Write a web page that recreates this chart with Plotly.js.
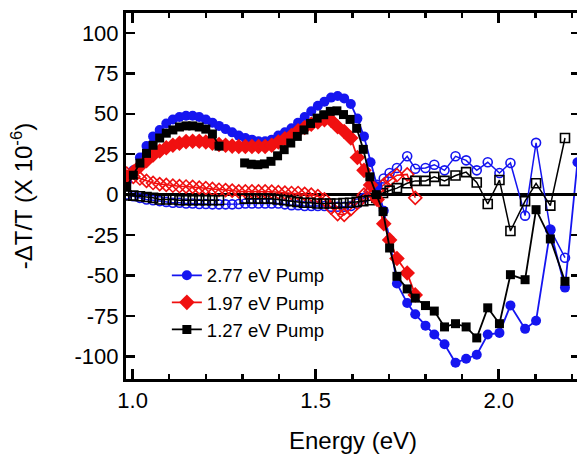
<!DOCTYPE html>
<html>
<head>
<meta charset="utf-8">
<script src="https://cdn.plot.ly/plotly-3.0.1.min.js"></script>
<style>
html, body { margin: 0; padding: 0; overflow: hidden; background: #fff; width: 577px; height: 455px; }
#chart { width: 584px; height: 455px; }
</style>
</head>
<body>
<div id="chart"></div>
<script>
// ---- Data ----
// Pump 2.77 eV, filled circles
const xBlue = [0.984,1.002,1.020,1.038,1.056,1.074,1.092,1.110,1.128,1.146,1.164,1.182,1.200,1.218,1.236,1.254,1.272,1.290,1.308,1.326,1.344,1.362,1.380,1.398,1.416,1.434,1.452,1.470,1.488,1.506,1.524,1.542,1.560,1.578,1.596,1.614,1.632,1.650,1.668,1.686,1.702,1.722,1.750,1.772,1.800,1.824,1.852,1.882,1.911,1.940,1.970,2.002,2.032,2.072,2.102,2.141,2.181,2.215];
const yBlue = [8,15,23,30,36,40,44,46.5,48,48.8,48.8,48,46.5,44.5,42.5,40.5,38.5,36.5,35,34,33,33,34,36.5,38.5,41,44.5,48,51.5,55,57.5,60,61,59.5,56,47,36,20,5,-10,-28,-55,-67,-74,-81,-86.5,-92.5,-104,-101.5,-99,-86.5,-85.5,-68.5,-83,-78,-22,-57.5,20];

// Pump 1.97 eV, filled diamonds
const xRed = [0.984,1.002,1.020,1.038,1.056,1.074,1.092,1.110,1.128,1.146,1.164,1.182,1.200,1.218,1.236,1.254,1.272,1.290,1.308,1.326,1.344,1.362,1.380,1.398,1.416,1.434,1.452,1.470,1.488,1.506,1.524,1.542,1.560,1.578,1.596,1.614,1.632,1.650,1.668,1.686,1.702,1.722,1.750,1.772];
const yRed = [11,14,17.5,21,24.5,27,29,30.5,31.8,32.8,33,33,32.5,31.8,31,30.5,30,29.8,29.8,29.8,29.8,29.8,30.5,32.5,34.5,36.5,39.5,41.5,43.5,45,46.3,46,42,39,35,23,15,6,-3,-18,-28,-39.5,-48.5,-62];

// Pump 1.27 eV, filled squares (null = gap in the data)
const xBlack = [0.984,1.002,1.020,1.038,1.056,1.074,1.092,1.110,1.128,1.146,1.164,1.182,1.200,1.218,1.236,1.270,1.306,1.324,1.342,1.360,1.378,1.396,1.414,1.432,1.450,1.468,1.486,1.504,1.522,1.540,1.558,1.576,1.594,1.612,1.630,1.648,1.666,1.684,1.702,1.722,1.750,1.772,1.800,1.824,1.852,1.882,1.911,1.940,1.970,2.002,2.032,2.072,2.102,2.141,2.181];
const yBlack = [5,12,19.5,25.5,30.5,35,38,40,41.8,42.5,42.5,41.8,40.5,37.5,30,null,19.6,18.8,18.5,19,20.6,24,27.8,31.9,36,40,44,47.3,49.4,51.5,51.8,49.5,46.5,41,28,11,0,-10.5,-33,-50.5,-58.3,-64,-68.6,-72,-81.8,-79.8,-81.8,-88.6,-70,-79.8,-49.5,-52.6,-9.3,-27.4,-53.6];

// Open-symbol companions
const xBlueOpen = [0.984,1.002,1.020,1.038,1.056,1.074,1.092,1.110,1.128,1.146,1.164,1.182,1.200,1.218,1.236,1.254,1.272,1.290,1.308,1.326,1.344,1.362,1.380,1.398,1.416,1.434,1.452,1.470,1.488,1.506,1.524,1.542,1.560,1.578,1.596,1.614,1.632,1.650,1.668,1.686,1.702,1.722,1.750,1.772,1.800,1.824,1.852,1.882,1.911,1.940,1.970,2.002,2.032,2.072,2.102,2.141,2.181];
const yBlueOpen = [0,-1,-2,-3,-3.5,-4,-4.5,-5,-5,-5.5,-5.5,-5.8,-5.8,-6,-6,-6,-6,-5.8,-5.5,-5.5,-5.5,-5.5,-5.5,-5.5,-6,-6.5,-6.5,-7,-7,-7,-7,-7.5,-7.5,-7.5,-7,-5.5,-2,2,6,10,13.4,16.5,23.7,16,16.5,18.5,15,23.7,21.2,15,20,13.4,19.6,-13,32,-21.6,-39];

const xRedOpen = [0.984,1.002,1.020,1.038,1.056,1.074,1.092,1.110,1.128,1.146,1.164,1.182,1.200,1.218,1.236,1.254,1.272,1.290,1.308,1.326,1.344,1.362,1.380,1.398,1.416,1.434,1.452,1.470,1.488,1.506,1.524,1.542,1.560,1.578,1.596,1.614,1.632,1.650,1.668,1.686,1.702,1.722,1.750,1.772];
const yRedOpen = [13,11,10,8.5,7.2,6.5,6,5.5,5.2,5,4.8,4.3,4,3.5,3,2.8,2.5,2,2,2,2,2,1.8,1.5,1.2,1,1,0.5,0,-1,-3,-8,-12,-12.5,-9,-5,0,2,3,6,9,12,12.5,-2];

const xBlackOpen = [0.984,1.002,1.020,1.038,1.056,1.074,1.092,1.110,1.128,1.146,1.164,1.182,1.200,1.218,1.236,1.270,1.306,1.324,1.342,1.360,1.378,1.396,1.414,1.432,1.450,1.468,1.486,1.504,1.522,1.540,1.558,1.576,1.594,1.612,1.630,1.648,1.666,1.684,1.702,1.722,1.750,1.772,1.800,1.824,1.852,1.882,1.911,1.940,1.970,2.002,2.032,2.072,2.102,2.141,2.181];
const yBlackOpen = [-0.5,-0.6,-1,-1.5,-2,-3,-3,-3,-3.5,-3.5,-3.5,-3.5,-3.5,-3.5,-3.5,null,-2.5,-2.5,-2.5,-2.5,-2.5,-3,-3.5,-4,-4.5,-5,-5,-5.5,-5.5,-5.5,-5.5,-5.2,-5,-4.5,-4,-3.5,-2,1,2.5,4,7,8.5,8.5,11,8.5,11.8,13.9,7.5,-5.8,9,-22.5,-4,7,-6.8,35];

const seriesNames = ['2.77 eV Pump', '1.97 eV Pump', '1.27 eV Pump'];
const yTickVals = [-100,-75,-50,-25,0,25,50,75,100];
const yTickText = ['-100','-75','-50','-25','0','25','50','75','100'];

const BLUE = '#1515f0', RED = '#f01010', BLACK = '#000000';
const FONT = 'Liberation Sans, Arial, Helvetica, sans-serif';

function openTrace(x, y, color, symbol, size) {
  return {x: x, y: y, type: 'scatter', mode: 'lines+markers', showlegend: false,
    line: {color: color, width: 1.5},
    marker: {symbol: symbol, size: size, color: color, line: {color: color, width: 1.6}},
    hoverinfo: 'skip'};
}
function fillTrace(x, y, color, symbol, size, name) {
  return {x: x, y: y, type: 'scatter', mode: 'lines+markers', name: name,
    line: {color: color, width: 1.8},
    marker: {symbol: symbol, size: size, color: color, line: {width: 0}}};
}

const data = [
  openTrace(xBlueOpen, yBlueOpen, BLUE, 'circle-open', 9),
  openTrace(xRedOpen, yRedOpen, RED, 'diamond-open', 10),
  openTrace(xBlackOpen, yBlackOpen, BLACK, 'square-open', 9),
  fillTrace(xBlue, yBlue, BLUE, 'circle', 10, seriesNames[0]),
  fillTrace(xRed, yRed, RED, 'diamond', 12, seriesNames[1]),
  fillTrace(xBlack, yBlack, BLACK, 'square', 9, seriesNames[2])
];

const layout = {
  width: 584, height: 455,
  margin: {l: 126, r: 4, t: 13, b: 76},
  paper_bgcolor: '#ffffff', plot_bgcolor: '#ffffff',
  font: {family: FONT, color: '#000', size: 21},
  showlegend: true,
  legend: {x: 0.09, y: 0.334, xanchor: 'left', yanchor: 'top',
    bgcolor: 'rgba(0,0,0,0)', borderwidth: 0, itemwidth: 30,
    font: {family: FONT, size: 18.5, color: '#000'}, tracegroupgap: 0},
  xaxis: {
    range: [0.982, 2.222], showgrid: false, zeroline: false,
    showline: true, linecolor: '#000', linewidth: 3, mirror: 'ticks',
    ticks: 'inside', ticklen: 10, tickwidth: 2.5, tickcolor: '#000',
    tick0: 1, dtick: 0.5, tickformat: '.1f',
    minor: {ticks: 'inside', dtick: 0.1, ticklen: 5, tickwidth: 2.5, tickcolor: '#000', showgrid: false},
    tickfont: {family: FONT, size: 22, color: '#000'},
    title: {text: 'Energy (eV)', font: {family: FONT, size: 24, color: '#000'}, standoff: 20}
  },
  yaxis: {
    range: [-114, 112.3], showgrid: false,
    zeroline: true, zerolinecolor: '#000', zerolinewidth: 2.5,
    showline: true, linecolor: '#000', linewidth: 3, mirror: 'ticks',
    ticks: 'inside', ticklen: 9, tickwidth: 2.5, tickcolor: '#000',
    tickmode: 'array', tickvals: yTickVals, ticktext: yTickText,
    tickfont: {family: FONT, size: 22, color: '#000'},
    title: {text: '-\u0394T/T (X 10<sup>-6</sup>)', font: {family: FONT, size: 24, color: '#000'}, standoff: 36}
  }
};

Plotly.newPlot('chart', data, layout, {staticPlot: true, displayModeBar: false});
</script>
</body>
</html>
